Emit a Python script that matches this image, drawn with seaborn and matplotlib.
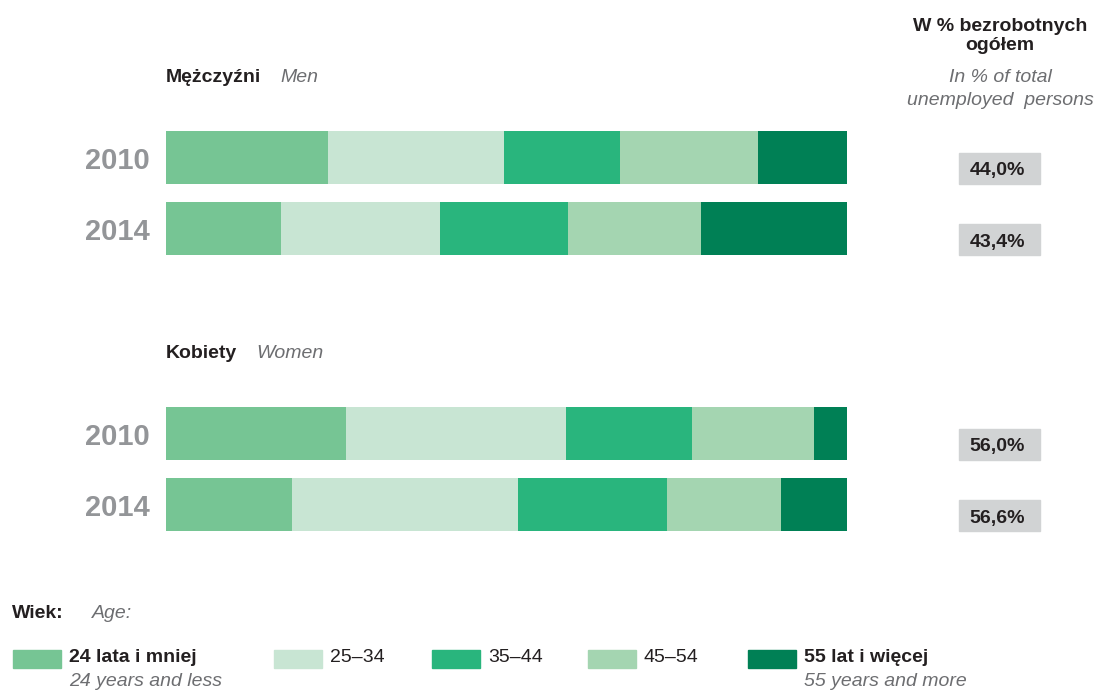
import pandas as pd
import matplotlib.pyplot as plt
import seaborn as sns
from matplotlib.patches import Rectangle

# data: age structure of unemployed (%)
years = ['2010', '2014']
age_groups = ['24 lata i mniej', '25–34', '35–44', '45–54', '55 lat i więcej']
age_groups_en = ['24 years and less', '', '', '', '55 years and more']
men = [[23.8, 25.8, 17.0, 20.3, 13.1],
       [16.9, 23.3, 18.8, 19.5, 21.5]]
women = [[26.4, 32.3, 18.5, 17.9, 4.9],
         [18.5, 33.2, 21.9, 16.7, 9.7]]
share_men = ['44,0%', '43,4%']
share_women = ['56,0%', '56,6%']
colors = ['#76c594', '#c8e5d3', '#29b57d', '#a4d5b1', '#008055']

sns.set_style('white')
plt.rcParams['font.family'] = ['Liberation Sans Narrow', 'Liberation Sans', 'DejaVu Sans']

W, H = 1096, 692
fig = plt.figure(figsize=(W / 100, H / 100), dpi=100)

def fx(x):
    return x / W

def fy(y):
    return 1 - y / H

BLACK = '#231f20'
GREY = '#6d6e71'
YEARGREY = '#939598'
BOXGREY = '#d1d3d4'


def panel(values, shares, top, title, title_en, title_en_x):
    # axes spanning the two bars (bar height 53 px, step 71 px)
    step = 71
    bw = 53 / step
    pad = bw / 2
    h_px = step + 53
    ax = fig.add_axes([fx(166), fy(top + h_px), fx(847) - fx(166), h_px / H])
    df = pd.DataFrame(values, columns=age_groups)
    df['year'] = years
    cum = df[age_groups].cumsum(axis=1)
    # draw cumulative bars from the widest one so they stack visually
    for i in range(len(age_groups) - 1, -1, -1):
        d = pd.DataFrame({'year': years, 'val': cum[age_groups[i]]})
        sns.barplot(data=d, x='val', y='year', order=years, orient='h',
                    color=colors[i], saturation=1, width=bw, linewidth=0, ax=ax)
    ax.set_xlim(0, cum[age_groups[-1]].max())
    ax.set_ylim(1 + pad, -pad)
    ax.set_xlabel('')
    ax.set_ylabel('')
    ax.set_xticks([])
    sns.despine(ax=ax, left=True, bottom=True)
    ax.tick_params(axis='y', length=0, pad=11.5)
    for lab in ax.get_yticklabels():
        lab.set_fontsize(21)
        lab.set_fontweight('bold')
        lab.set_color(YEARGREY)

    # title
    fig.text(fx(166), fy(top - 53), title, fontsize=14, fontweight='bold',
             color=BLACK, va='center', ha='left')
    fig.text(fx(title_en_x), fy(top - 53), title_en,
             fontsize=14, style='italic', color=GREY, va='center', ha='left')

    # share boxes in right column, aligned to each bar bottom
    for k, s in enumerate(shares):
        yb = top + k * step + 53
        fig.patches.append(Rectangle((fx(959), fy(yb)), fx(1040) - fx(959), 31 / H,
                                     transform=fig.transFigure, color=BOXGREY, zorder=0))
        fig.text(fx(997), fy(yb - 13), s, fontsize=14, fontweight='bold',
                 color=BLACK, ha='center', va='center')


panel(men, share_men, 131, 'Mężczyźni', 'Men', 280)
panel(women, share_women, 407, 'Kobiety', 'Women', 256)

# right column header
fig.text(fx(1000), fy(36), 'W % bezrobotnych\nogółem', fontsize=14, fontweight='bold',
         color=BLACK, ha='center', va='center', linespacing=1.2)
fig.text(fx(1000), fy(89), 'In % of total\nunemployed  persons', fontsize=14,
         style='italic', color=GREY, ha='center', va='center', linespacing=1.4)

# legend
fig.text(fx(12), fy(613), 'Wiek:', fontsize=14, fontweight='bold', color=BLACK, va='center')
fig.text(fx(92), fy(613), 'Age:', fontsize=14, style='italic', color=GREY, va='center')
sw_x = [13, 274, 432, 588, 748]
for i, g in enumerate(age_groups):
    fig.patches.append(Rectangle((fx(sw_x[i]), fy(668)), 48 / W, 18 / H,
                                 transform=fig.transFigure, color=colors[i]))
    bold = age_groups_en[i] != ''
    fig.text(fx(sw_x[i] + 56), fy(658), g, fontsize=14,
             fontweight='bold' if bold else 'normal', color=BLACK, va='center')
    if bold:
        fig.text(fx(sw_x[i] + 56), fy(681), age_groups_en[i], fontsize=14,
                 style='italic', color=GREY, va='center')

plt.savefig('out.png', dpi=100)
